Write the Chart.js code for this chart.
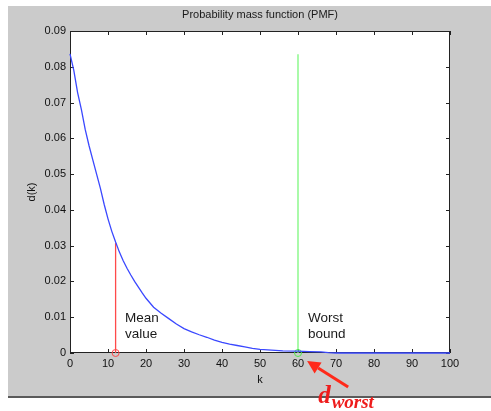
<!DOCTYPE html>
<html>
<head>
<meta charset="utf-8">
<script src="https://cdn.jsdelivr.net/npm/chart.js@4/dist/chart.umd.min.js"></script>
<style>
  html, body { margin: 0; padding: 0; background: #ffffff; }
  canvas { display: block; }
</style>
</head>
<body>
<canvas id="c" width="491" height="411"></canvas>
<script>
// ---- data ----
const kValues = [0, 1, 2, 3, 4, 5, 6, 7, 8, 9, 10, 11, 12, 13, 14, 15, 16, 17, 18, 19, 20,
                 22, 24, 26, 28, 30, 32, 34, 36, 38, 40, 42, 44, 46, 48, 50, 53, 56, 60, 63, 66, 68, 70, 80, 90, 100];
const dValues = [0.0836, 0.0790, 0.0728, 0.0680, 0.0625, 0.0580, 0.0540, 0.0500, 0.0460, 0.0415, 0.0375, 0.0340, 0.0310,
                 0.0282, 0.0258, 0.0237, 0.0218, 0.0200, 0.0184, 0.0168, 0.0153,
                 0.0128, 0.0111, 0.0096, 0.0081, 0.0068, 0.0059, 0.0051, 0.0044, 0.0036, 0.0030, 0.0025, 0.0021,
                 0.0017, 0.0013, 0.0010, 0.0008, 0.0006, 0.0005, 0.0004, 0.0003, 0.0001, 0.0000, 0.0000, 0.0000, 0.0000];
const meanK = 12;
const meanD = 0.0307;
const worstK = 60;
const worstD = 0.0835;
const xTickValues = [0, 10, 20, 30, 40, 50, 60, 70, 80, 90, 100];
const yTickValues = [0, 0.01, 0.02, 0.03, 0.04, 0.05, 0.06, 0.07, 0.08, 0.09];
const titleText = 'Probability mass function (PMF)';
const xTitle = 'k';
const yTitle = 'd(k)';
const meanLabel = ['Mean', 'value'];
const worstLabel = ['Worst', 'bound'];
const dMain = 'd';
const dSub = 'worst';

const pmfPoints = kValues.map((k, i) => ({ x: k, y: dValues[i] }));

const figurePlugin = {
  id: 'figure',
  beforeDraw(chart) {
    const ctx = chart.ctx;
    const a = chart.chartArea;
    ctx.save();
    ctx.fillStyle = '#ffffff';
    ctx.fillRect(0, 0, chart.width, chart.height);
    ctx.fillStyle = '#cbcbcb';
    ctx.fillRect(8, 6, chart.width - 8, 391);
    ctx.fillStyle = '#5a5a5a';
    ctx.fillRect(8, 396, chart.width - 8, 2);
    ctx.fillStyle = '#ffffff';
    ctx.fillRect(a.left, a.top, a.right - a.left, a.bottom - a.top);
    ctx.restore();
  },
  beforeDatasetsDraw(chart) {
    const ctx = chart.ctx;
    const a = chart.chartArea;
    const xs = chart.scales.x, ys = chart.scales.y;
    ctx.save();
    ctx.strokeStyle = '#222222';
    ctx.lineWidth = 1;
    ctx.strokeRect(Math.round(a.left) + 0.5, Math.round(a.top) + 0.5,
                   Math.round(a.right - a.left) - 1, Math.round(a.bottom - a.top) - 1);
    const tl = 4;
    ctx.beginPath();
    xTickValues.forEach(v => {
      const px = Math.round(xs.getPixelForValue(v)) + 0.5;
      ctx.moveTo(px, a.bottom); ctx.lineTo(px, a.bottom - tl);
      ctx.moveTo(px, a.top); ctx.lineTo(px, a.top + tl);
    });
    yTickValues.forEach(v => {
      const py = Math.round(ys.getPixelForValue(v)) + 0.5;
      ctx.moveTo(a.left, py); ctx.lineTo(a.left + tl, py);
      ctx.moveTo(a.right, py); ctx.lineTo(a.right - tl, py);
    });
    ctx.stroke();
    ctx.restore();
  },
  afterDraw(chart) {
    const ctx = chart.ctx;
    const xs = chart.scales.x, ys = chart.scales.y;
    const y0 = ys.getPixelForValue(0);
    ctx.save();
    // text annotations
    ctx.fillStyle = '#1a1a1a';
    ctx.font = '13.5px "Liberation Sans", Arial, sans-serif';
    ctx.textAlign = 'left';
    ctx.textBaseline = 'middle';
    ctx.fillText(meanLabel[0], xs.getPixelForValue(14.5), ys.getPixelForValue(0.0098));
    ctx.fillText(meanLabel[1], xs.getPixelForValue(14.5), ys.getPixelForValue(0.0052));
    ctx.fillText(worstLabel[0], xs.getPixelForValue(62.6), ys.getPixelForValue(0.0098));
    ctx.fillText(worstLabel[1], xs.getPixelForValue(62.6), ys.getPixelForValue(0.0052));

    // red arrow
    const tipX = xs.getPixelForValue(62.4), tipY = y0 + 8;
    const tailX = xs.getPixelForValue(73.2), tailY = y0 + 34;
    const ang = Math.atan2(tipY - tailY, tipX - tailX);
    const headLen = 13, headW = 6.5;
    const baseX = tipX - headLen * Math.cos(ang), baseY = tipY - headLen * Math.sin(ang);
    ctx.strokeStyle = '#ff2a1a';
    ctx.fillStyle = '#ff2a1a';
    ctx.lineWidth = 3;
    ctx.beginPath();
    ctx.moveTo(tailX, tailY);
    ctx.lineTo(baseX, baseY);
    ctx.stroke();
    ctx.beginPath();
    ctx.moveTo(tipX, tipY);
    ctx.lineTo(baseX + headW * Math.sin(ang), baseY - headW * Math.cos(ang));
    ctx.lineTo(baseX - headW * Math.sin(ang), baseY + headW * Math.cos(ang));
    ctx.closePath();
    ctx.fill();

    // d_worst label
    ctx.fillStyle = '#ee1c1c';
    ctx.textBaseline = 'alphabetic';
    ctx.font = 'italic bold 25px "Liberation Serif", "DejaVu Serif", serif';
    const dx = xs.getPixelForValue(65.3);
    ctx.fillText(dMain, dx, y0 + 50);
    const dw = ctx.measureText(dMain).width;
    ctx.font = 'italic bold 19px "Liberation Serif", "DejaVu Serif", serif';
    ctx.fillText(dSub, dx + dw + 1, y0 + 55);
    ctx.restore();
  }
};

new Chart(document.getElementById('c'), {
  type: 'line',
  data: {
    datasets: [
      {
        label: 'PMF',
        data: pmfPoints,
        borderColor: '#3a48ff',
        borderWidth: 1.3,
        pointRadius: 0,
        tension: 0,
        clip: false
      },
      {
        label: 'Mean value',
        data: [{ x: meanK, y: 0 }, { x: meanK, y: meanD }],
        borderColor: '#ff4a4a',
        borderWidth: 1.3,
        pointRadius: [3.5, 0],
        pointStyle: 'circle',
        pointBorderColor: '#ff4a4a',
        pointBackgroundColor: 'rgba(0,0,0,0)',
        pointBorderWidth: 1,
        clip: false
      },
      {
        label: 'Worst bound',
        data: [{ x: worstK, y: 0 }, { x: worstK, y: worstD }],
        borderColor: '#7cf77c',
        borderWidth: 1.3,
        pointRadius: [3.5, 0],
        pointStyle: 'circle',
        pointBorderColor: '#4ee84e',
        pointBackgroundColor: 'rgba(0,0,0,0)',
        pointBorderWidth: 1,
        clip: false
      }
    ]
  },
  options: {
    responsive: false,
    animation: false,
    devicePixelRatio: 1,
    layout: { padding: { left: 0, right: 41, top: 0, bottom: 0 } },
    plugins: {
      legend: { display: false },
      tooltip: { enabled: false },
      title: {
        display: true,
        text: titleText,
        fullSize: false,
        color: '#1a1a1a',
        font: { family: '"Liberation Sans", Arial, sans-serif', size: 11, weight: 'normal', lineHeight: 1.2 },
        padding: { top: 8, bottom: 9.8 }
      }
    },
    scales: {
      x: {
        type: 'linear',
        min: 0,
        max: 100,
        afterFit(scale) { scale.height = 58; },
        afterBuildTicks(scale) { scale.ticks = xTickValues.map(v => ({ value: v })); },
        grid: { display: false, drawTicks: false },
        border: { display: false },
        ticks: {
          padding: 4.5,
          color: '#111111',
          font: { family: '"Liberation Sans", Arial, sans-serif', size: 11 },
          maxRotation: 0,
          autoSkip: false,
          callback: v => String(v)
        },
        title: {
          display: true,
          text: xTitle,
          color: '#111111',
          font: { family: '"Liberation Sans", Arial, sans-serif', size: 11 },
          padding: { top: 0, bottom: 24.4 }
        }
      },
      y: {
        type: 'linear',
        min: 0,
        max: 0.09,
        afterFit(scale) { scale.width = 70; },
        afterBuildTicks(scale) { scale.ticks = yTickValues.map(v => ({ value: v })); },
        grid: { display: false, drawTicks: false },
        border: { display: false },
        ticks: {
          padding: 4,
          color: '#111111',
          font: { family: '"Liberation Sans", Arial, sans-serif', size: 11 },
          autoSkip: false,
          callback: v => (v === 0 ? '0' : Number(v).toFixed(2))
        },
        title: {
          display: true,
          text: yTitle,
          color: '#111111',
          font: { family: '"Liberation Sans", Arial, sans-serif', size: 11 },
          padding: { top: 25.4, bottom: 0 }
        }
      }
    }
  },
  plugins: [figurePlugin]
});
</script>
</body>
</html>
